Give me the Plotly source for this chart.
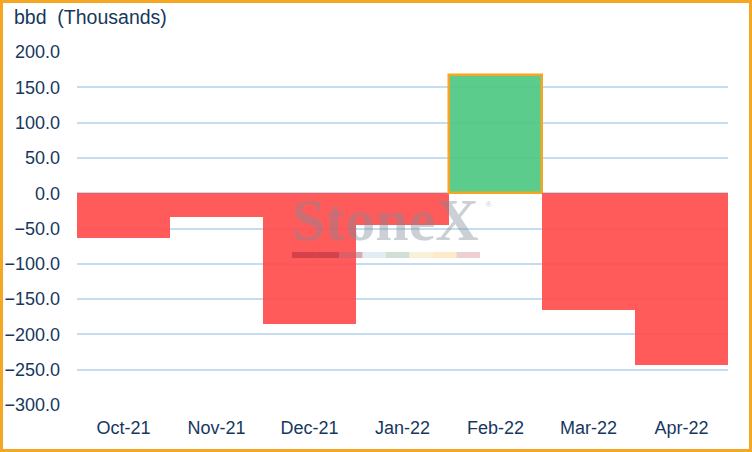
import plotly.graph_objects as go

# monthly change, thousands of bbd
months = ["Oct-21", "Nov-21", "Dec-21", "Jan-22", "Feb-22", "Mar-22", "Apr-22"]
change = [-64, -34, -185, -45, 168, -165, -244]
y_ticks = [-300, -250, -200, -150, -100, -50, 0, 50, 100, 150, 200]

red = "rgba(255,73,73,0.9)"
green = "rgba(74,199,129,0.9)"
orange = "#F5A623"
navy = "#17375E"

bar_colors = [green if v > 0 else red for v in change]
line_colors = [orange if v > 0 else "rgba(0,0,0,0)" for v in change]
line_widths = [2.5 if v > 0 else 0 for v in change]

fig = go.Figure()
fig.add_trace(go.Bar(x=months, y=change,
                     marker=dict(color=bar_colors,
                                 line=dict(color=line_colors, width=line_widths))))

W, H = 752, 452
L, R, T, B = 77, 24, 52, 47
pw, ph = W - L - R, H - T - B

fig.update_layout(
    width=W, height=H,
    margin=dict(l=L, r=R, t=T, b=B, autoexpand=False),
    plot_bgcolor="white", paper_bgcolor="white",
    bargap=0, showlegend=False,
    font=dict(family="Liberation Sans, Arial", size=18, color=navy),
)
fig.update_yaxes(range=[-300, 200], tickvals=y_ticks, tickformat=".1f",
                 showgrid=True, gridcolor="#C5DDF0", gridwidth=1.5,
                 zeroline=True, zerolinecolor="#C5DDF0", zerolinewidth=2,
                 ticks="", ticklabelstandoff=16, showline=False, automargin=False)
fig.update_xaxes(showgrid=False, showline=False, ticks="", ticklabelstandoff=10,
                 automargin=False)

# axis unit label
fig.add_annotation(text="bbd  (Thousands)", xref="paper", yref="paper",
                   x=-(L - 12) / pw, y=1 + (T - 4) / ph, xanchor="left", yanchor="top",
                   showarrow=False, font=dict(size=19.5, color=navy))

# watermark
fig.add_annotation(text="<b>StoneX</b>", xref="paper", yref="paper",
                   x=(385 - L) / pw, y=1 - (220 - T) / ph, xanchor="center", yanchor="middle",
                   showarrow=False, opacity=0.4,
                   font=dict(family="Liberation Serif, DejaVu Serif", size=60, color="#7F8C99"))
fig.add_annotation(text="®", xref="paper", yref="paper",
                   x=(488 - L) / pw, y=1 - (204 - T) / ph, xanchor="center", yanchor="middle",
                   showarrow=False, opacity=0.45,
                   font=dict(family="Liberation Serif, DejaVu Serif", size=9, color="#7F8C99"))
strip = ["#B03040", "#B03040", "#C06070", "#C8DDEA", "#A8C8B0", "#F0E6B8", "#FAD8A0", "#E0A8B0"]
for i, c in enumerate(strip):
    x0 = (292 - L + i * 23.5) / pw
    fig.add_shape(type="rect", xref="paper", yref="paper",
                  x0=x0, x1=x0 + 23.5 / pw, y0=1 - (258 - T) / ph, y1=1 - (252 - T) / ph,
                  fillcolor=c, opacity=0.55, line=dict(width=0), layer="above")

# outer frame
fig.add_shape(type="rect", xref="paper", yref="paper",
              x0=-(L - 1.5) / pw, x1=1 + (R - 1.5) / pw,
              y0=-(B - 1.5) / ph, y1=1 + (T - 1.5) / ph,
              line=dict(color=orange, width=3), fillcolor="rgba(0,0,0,0)")

fig.write_html("out.html", config={"displayModeBar": False},
               post_script="document.body.style.margin='0';")
